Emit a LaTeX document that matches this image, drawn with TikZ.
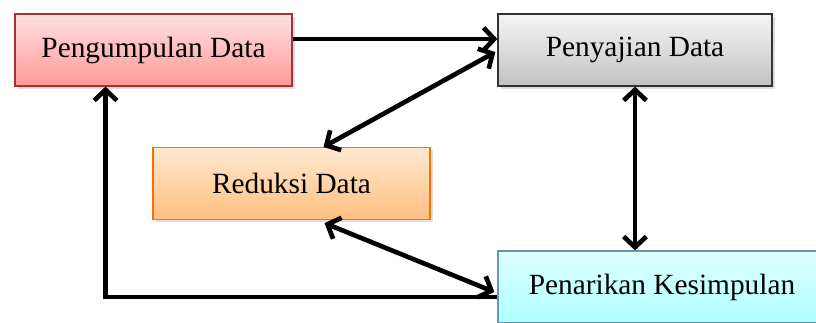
\documentclass[tikz,border=0pt]{standalone}
\usepackage{fontspec}
\setmainfont{Liberation Serif}
\usetikzlibrary{arrows.meta,calc,shadows}

\begin{document}
\begin{tikzpicture}[x=0.75pt,y=-0.75pt,
		kotak/.style = {draw, line width=0.9pt, minimum height=54pt, inner sep=0pt,
			font=\fontsize{22}{25}\selectfont,
			drop shadow={opacity=0.25, shadow xshift=2pt, shadow yshift=-2pt}},
		panah/.style = {line width=3.5pt, -{Straight Barb[length=8pt,width=17pt]}},
		duapanah/.style = {panah, {Straight Barb[length=8pt,width=17pt]}-{Straight Barb[length=8pt,width=17pt]}}]
		\useasboundingbox (0,0) rectangle (816,322);
		
		\node[kotak, minimum width=207.75pt, draw = red!55!black!80, top color = red!12, bottom color = red!40] (kumpul) at (153.5,50) {Pengumpulan Data};
		\node[kotak, minimum width=205.5pt, draw = black!80, top color = black!4, bottom color = black!24] (saji) at (635,50) {Penyajian Data};
		\node[kotak, minimum width=207.75pt, draw = orange!85!red, top color = orange!18, bottom color = orange!50] (reduksi) at (291.5,183.5) {Reduksi Data};
		\node[kotak, minimum width=246pt, draw = cyan!60!black!80, top color = cyan!12, bottom color = cyan!32] (tarik) at (662,287) {Penarikan Kesimpulan};
		
		\draw[panah] ($(kumpul.east)+(0,-11)$) -- ($(saji.west)+(0,-11)$);
		\draw[duapanah] ($(reduksi.north)+(32,0)$) -- ($(saji.west)+(-2,2)$);
		\draw[duapanah] (saji.south) -- (saji.south |- tarik.north);
		\draw[duapanah] ($(reduksi.south)+(33,3)$) -- ($(tarik.west)+(-3,5)$);
		\draw[panah] ($(tarik.west)+(0,10)$) -| ($(kumpul.south)+(-48,0)$);
	\end{tikzpicture}
\end{document}
